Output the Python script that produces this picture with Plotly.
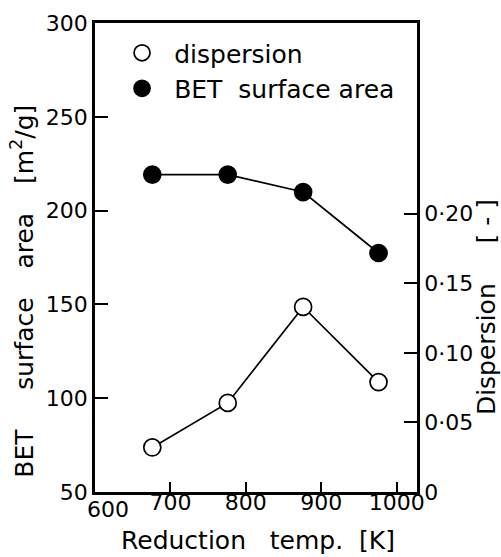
import plotly.graph_objects as go

# Reduction temperature [K]
temps = [676, 776, 876, 976]
# BET surface area [m2/g]
bet_area = [219.2, 219.2, 209.9, 177.4]
# Metal dispersion [-]
dispersion = [0.032, 0.064, 0.133, 0.079]

x_ticks = [600, 700, 800, 900, 1000]
x_ticktext = ["", "700", "800", "900", "1000"]
y_ticks = [50, 100, 150, 200, 250, 300]
y2_ticks = [0, 0.05, 0.10, 0.15, 0.20]
y2_ticktext = ["0", "0\u00b705", "0\u00b710", "0\u00b715", "0\u00b720"]

FONT = "DejaVu Sans"
TICK_FS = 22
TEXT_FS = 25
NB = "\u00a0"
THIN = "\u2009"

fig = go.Figure()

# connecting lines
fig.add_trace(go.Scatter(x=temps, y=dispersion, yaxis="y2", mode="lines",
                         line=dict(color="black", width=1.7), showlegend=False,
                         hoverinfo="skip"))
fig.add_trace(go.Scatter(x=temps, y=bet_area, mode="lines",
                         line=dict(color="black", width=1.7), showlegend=False,
                         hoverinfo="skip"))

# markers
fig.add_trace(go.Scatter(x=temps, y=dispersion, yaxis="y2", mode="markers",
                         name=NB + "\u2006" + "dispersion", legendgroup="a",
                         marker=dict(symbol="circle", size=17, color="white",
                                     line=dict(color="black", width=1.7))))
fig.add_trace(go.Scatter(x=temps, y=bet_area, mode="markers",
                         name=NB + "\u2006" + "BET" + NB * 2 + "surface" + NB + "area",
                         legendgroup="b",
                         marker=dict(symbol="circle", size=17, color="black",
                                     line=dict(color="black", width=1.7))))

axis_common = dict(showline=True, linecolor="black", linewidth=2.5,
                   ticks="inside", tickwidth=2, tickcolor="black",
                   showgrid=False, zeroline=False,
                   tickfont=dict(family=FONT, size=TICK_FS, color="black"))

fig.update_layout(
    width=501, height=557,
    margin=dict(l=95, r=84, t=23, b=65),
    paper_bgcolor="white", plot_bgcolor="white",
    font=dict(family=FONT, size=TEXT_FS, color="black"),
    xaxis=dict(range=[600, 1027], tickvals=x_ticks, ticktext=x_ticktext,
               mirror=True, ticklen=10, ticklabelstandoff=-11,
               **axis_common),
    yaxis=dict(range=[50, 300], tickvals=y_ticks, ticklen=13,
               **axis_common),
    yaxis2=dict(range=[0, 0.337], overlaying="y", side="right", ticklen=13,
                tickvals=y2_ticks, ticktext=y2_ticktext,
                **axis_common),
    legend=dict(x=0.084, y=0.985, xanchor="left", yanchor="top",
                bgcolor="rgba(0,0,0,0)", tracegroupgap=0,
                font=dict(family=FONT, size=TEXT_FS, color="black")),
    showlegend=True,
)

# axis titles and the corner "600" label
fig.add_annotation(text="Reduction" + NB * 3 + "temp." + NB * 2 + "[K]",
                   xref="paper", yref="paper", x=0.506, y=-0.1386,
                   xanchor="center", yanchor="bottom",
                   showarrow=False, font=dict(family=FONT, size=TEXT_FS))
fig.add_annotation(text="BET" + NB * 5 + "surface" + NB * 3 + THIN + "area" + NB * 3 + THIN
                   + "[m<sup>2</sup>/g]",
                   xref="paper", yref="paper", x=-0.2236, y=0.427,
                   xanchor="center", yanchor="middle",
                   textangle=-90, showarrow=False,
                   font=dict(family=FONT, size=TEXT_FS))
fig.add_annotation(text="Dispersion" + NB * 5 + "[" + NB + "-" + NB + "]",
                   xref="paper", yref="paper", x=1.214, y=0.394,
                   xanchor="center", yanchor="middle",
                   textangle=-90, showarrow=False,
                   font=dict(family=FONT, size=TEXT_FS))
fig.add_annotation(text="600", xref="x", yref="paper", x=600, y=0,
                   xshift=13, yshift=-3, xanchor="center", yanchor="top",
                   showarrow=False, font=dict(family=FONT, size=TICK_FS))

fig.write_html("out.html")
